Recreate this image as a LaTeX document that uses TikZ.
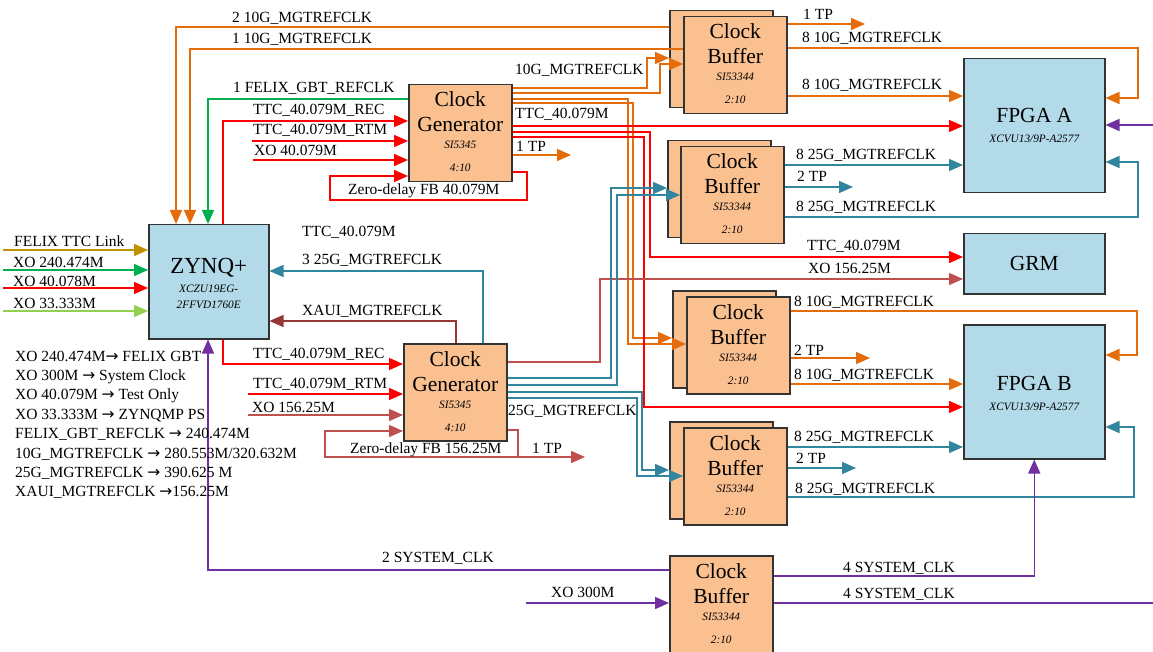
\documentclass[tikz,border=0pt]{standalone}
\usepackage{fontspec}
\setmainfont{Liberation Serif}
\newfontfamily\arrowfont{DejaVu Sans}
\usetikzlibrary{arrows.meta,calc}

\definecolor{orng}{RGB}{228,108,10}
\definecolor{teal5}{RGB}{49,133,156}
\definecolor{brick}{RGB}{192,80,77}
\definecolor{xauic}{RGB}{149,55,53}
\definecolor{grn}{RGB}{0,176,80}
\definecolor{lgrn}{RGB}{146,208,80}
\definecolor{gold}{RGB}{191,144,0}
\definecolor{purp}{RGB}{112,48,160}
\definecolor{peach}{RGB}{250,192,144}
\definecolor{lblue}{RGB}{178,218,232}

\newcommand{\legarrow}{{\arrowfont →}}
% four text lines of a clock chip box
\newcommand{\boxtext}[5]{%
  \node[bigtxt] (#1-l1) at ($(#1.north)+(0,23)$) {#2};
  \node[bigtxt] (#1-l2) at ($(#1.north)+(0,48)$) {#3};
  \node[parttxt] (#1-l3) at ($(#1.north)+(0,65)$) {#4};
  \node[parttxt] (#1-l4) at ($(#1.north)+(0,88)$) {#5};}

\begin{document}
\begin{tikzpicture}[x=1pt,y=-1pt,
  box/.style={draw=black!80,line width=1.5pt,minimum width=103pt,minimum height=97pt,anchor=north west,inner sep=0pt,fill=peach},
  fpga/.style={draw=black!80,line width=1.5pt,minimum width=141pt,minimum height=134pt,anchor=north west,inner sep=0pt,fill=lblue},
  wire/.style={line width=1.5pt},
  arr/.style={wire,-{Triangle[length=14pt,width=12pt]}},
  lbl/.style={anchor=base west,inner sep=0pt,font=\fontsize{15.5}{18}\selectfont},
  bigtxt/.style={anchor=base,inner sep=0pt,font=\fontsize{21.5}{24}\selectfont},
  parttxt/.style={anchor=base,inner sep=0pt,font=\fontsize{11.3}{13}\selectfont\itshape}]
\useasboundingbox (0,0) rectangle (1153,652);

% clock buffers (stacked pairs) and generators
\node[box] (bufAb) at (669,10) {};
\node[box] (bufA) at (683,16) {};
\node[box] (bufBb) at (667,140) {};
\node[box] (bufB) at (680,146) {};
\node[box] (bufCb) at (672,290) {};
\node[box] (bufC) at (686,296) {};
\node[box] (bufDb) at (669,421) {};
\node[box] (bufD) at (683,427) {};
\node[box] (bufS) at (669,555) {};
\node[box] (genA) at (408,84) {};
\node[box] (genB) at (403,343) {};
\boxtext{genA}{Clock}{Generator}{SI5345}{4:10}
\boxtext{genB}{Clock}{Generator}{SI5345}{4:10}
\foreach \b in {bufA,bufB,bufC,bufD,bufS} {\boxtext{\b}{Clock}{Buffer}{SI53344}{2:10}}

% processor, FPGAs and GRM
\node[fpga,minimum width=120pt,minimum height=114pt] (zynq) at (148,224) {};
\node[fpga] (fpgaA) at (963,58) {};
\node[fpga,minimum height=60pt] (grm) at (963,233) {};
\node[fpga] (fpgaB) at (963,324) {};
\node[bigtxt,font=\fontsize{23}{26}\selectfont] (zynq-l1) at ($(zynq.north)+(0,49)$) {ZYNQ+};
\node[parttxt] (zynq-l2) at ($(zynq.north)+(0,68)$) {XCZU19EG-};
\node[parttxt] (zynq-l3) at ($(zynq.north)+(0,84)$) {2FFVD1760E};
\node[bigtxt] (fpgaA-l1) at ($(fpgaA.north)+(0,65)$) {FPGA A};
\node[parttxt] (fpgaA-l2) at ($(fpgaA.north)+(0,85)$) {XCVU13/9P-A2577};
\node[bigtxt] (grm-l1) at ($(grm.north)+(0,37)$) {GRM};
\node[bigtxt] (fpgaB-l1) at ($(fpgaB.north)+(0,66)$) {FPGA B};
\node[parttxt] (fpgaB-l2) at ($(fpgaB.north)+(0,86)$) {XCVU13/9P-A2577};

% into ZYNQ from the top
\draw[arr,orng] (bufAb.west |- 0,27) -| (zynq.north -| 176,0);
\draw[arr,orng] (bufA.west |- 0,49) -| (zynq.north -| 190,0);
\draw[arr,grn] (genA.west |- 0,99) -| (zynq.north -| 208,0);
\draw[arr,red] (zynq.north -| 223,0) |- (genA.west |- 0,121);

% generator A inputs
\coordinate (rtmA) at (252,141);
\coordinate (xoA) at (253,160);
\draw[arr,red] (rtmA) -- (rtmA -| genA.west);
\draw[arr,red] (xoA) -- (xoA -| genA.west);
\draw[arr,red] (genA.east |- 0,172) -| (527,200) -| (330,176) -- (genA.west |- 0,176);

% generator A outputs
\draw[arr,orng] (genA.east |- 0,88) -| (647,58) -- (bufAb.west |- 0,58);
\draw[arr,orng] (genA.east |- 0,93) -| (660,64) -- (bufA.west |- 0,64);
\draw[arr,orng] (genA.east |- 0,99) -| (628,344) -- (bufC.west |- 0,344);
\draw[arr,orng] (genA.east |- 0,103) -| (633,338) -- (bufCb.west |- 0,338);
\draw[arr,red] (genA.east |- 0,126) -- (fpgaA.west |- 0,126);
\draw[arr,red] (genA.east |- 0,132) -| (650,257) -- (grm.west |- 0,257);
\draw[arr,red] (genA.east |- 0,137) -| (644,407) -- (fpgaB.west |- 0,407);
\coordinate (tpA) at (571,155);
\draw[arr,orng] (genA.east |- 0,155) -- (tpA);

% into ZYNQ from the right and bottom
\draw[arr,teal5] (genB.north -| 483,0) |- (zynq.east |- 0,271);
\draw[arr,xauic] (genB.north -| 456,0) |- (zynq.east |- 0,321);
\draw[arr,purp] (bufS.west |- 0,570) -| (zynq.south -| 208,0);
\draw[arr,red] (zynq.south -| 223,0) |- (genB.west |- 0,364);

% generator B inputs
\coordinate (rtmB) at (248,394);
\coordinate (xoB) at (248,415);
\draw[arr,red] (rtmB) -- (rtmB -| genB.west);
\draw[arr,brick] (xoB) -- (xoB -| genB.west);
\coordinate (fbB) at (518,457);
\coordinate (tpB) at (585,457);
\draw[wire,brick] (genB.east |- 0,430) -| (fbB);
\draw[arr,brick] (fbB) -- (tpB);
\draw[arr,brick] (fbB) -| (325,431) -- (genB.west |- 0,431);

% generator B outputs
\draw[arr,brick] (genB.east |- 0,362) -| (600,279) -- (grm.west |- 0,279);
\draw[arr,teal5] (genB.east |- 0,378) -| (611,188) -- (bufBb.west |- 0,188);
\draw[arr,teal5] (genB.east |- 0,385) -| (617,195) -- (bufB.west |- 0,195);
\draw[arr,teal5] (genB.east |- 0,392) -| (642,470) -- (bufDb.west |- 0,470);
\draw[arr,teal5] (genB.east |- 0,398) -| (637,476) -- (bufD.west |- 0,476);

% buffer outputs
\coordinate (tpA1) at (865,24);
\draw[arr,orng] (bufA.east |- 0,24) -- (tpA1);
\draw[arr,orng] (bufA.east |- 0,48) -| (1138,98) -- (fpgaA.east |- 0,98);
\draw[arr,orng] (bufA.east |- 0,96) -- (fpgaA.west |- 0,96);
\coordinate (tpB1) at (853,187);
\draw[arr,teal5] (bufB.east |- 0,165) -- (fpgaA.west |- 0,165);
\draw[arr,teal5] (bufB.east |- 0,187) -- (tpB1);
\draw[arr,teal5] (bufB.east |- 0,217) -| (1138,162) -- (fpgaA.east |- 0,162);
\coordinate (tpC1) at (870,358);
\draw[arr,orng] (bufC.east |- 0,311) -| (1137,355) -- (fpgaB.east |- 0,355);
\draw[arr,orng] (bufC.east |- 0,358) -- (tpC1);
\draw[arr,orng] (bufC.east |- 0,384) -- (fpgaB.west |- 0,384);
\coordinate (tpD1) at (856,468);
\draw[arr,teal5] (bufD.east |- 0,447) -- (fpgaB.west |- 0,447);
\draw[arr,teal5] (bufD.east |- 0,468) -- (tpD1);
\draw[arr,teal5] (bufD.east |- 0,497) -| (1134,427) -- (fpgaB.east |- 0,427);

% system clock
\coordinate (xo300) at (526,603);
\coordinate (sysOut) at (1153,603);
\coordinate (sysIn) at (1153,125);
\draw[arr,purp] (xo300) -- (xo300 -| bufS.west);
\draw[arr,purp] (bufS.east |- 0,576) -| (fpgaB.south);
\draw[wire,purp] (bufS.east |- 0,603) -- (sysOut);
\draw[arr,purp] (sysIn) -- (sysIn -| fpgaA.east);

% ZYNQ left inputs
\foreach \y/\c [count=\i] in {250/gold,270/grn,288/red,311/lgrn} {
  \coordinate (in\i) at (3,\y);
  \draw[arr,\c] (in\i) -- (in\i -| zynq.west);
}

% wire labels
\foreach \x/\y/\t [count=\i] in {
  232/23/{2 10G\_MGTREFCLK}, 232/44/{1 10G\_MGTREFCLK}, 233/93/{1 FELIX\_GBT\_REFCLK},
  253/115/{TTC\_40.079M\_REC}, 253/135/{TTC\_40.079M\_RTM}, 254/156/{XO 40.079M},
  348/195/{Zero-delay FB 40.079M}, 515/75/{10G\_MGTREFCLK}, 515/119/{TTC\_40.079M},
  516/152/{1 TP}, 803/20/{1 TP}, 802/43/{8 10G\_MGTREFCLK}, 802/90/{8 10G\_MGTREFCLK},
  796/160/{8 25G\_MGTREFCLK}, 797/182/{2 TP}, 796/212/{8 25G\_MGTREFCLK},
  302/237/{TTC\_40.079M}, 302/265/{3 25G\_MGTREFCLK}, 302/315/{XAUI\_MGTREFCLK},
  14/247/{FELIX TTC Link}, 13/267/{XO 240.474M}, 13/287/{XO 40.078M}, 13/308/{XO 33.333M},
  253/358/{TTC\_40.079M\_REC}, 253/388/{TTC\_40.079M\_RTM}, 252/412/{XO 156.25M},
  350/453/{Zero-delay FB 156.25M}, 532/453/{1 TP}, 508/415/{25G\_MGTREFCLK},
  807/251/{TTC\_40.079M}, 808/273/{XO 156.25M}, 794/306/{8 10G\_MGTREFCLK},
  794/355/{2 TP}, 794/379/{8 10G\_MGTREFCLK}, 794/441/{8 25G\_MGTREFCLK},
  796/463/{2 TP}, 795/493/{8 25G\_MGTREFCLK}, 382/562/{2 SYSTEM\_CLK},
  551/597/{XO 300M}, 843/572/{4 SYSTEM\_CLK}, 843/598/{4 SYSTEM\_CLK}} {
  \node[lbl] (lbl\i) at (\x,\y) {\t};
}

% legend
\foreach \t [count=\i from 0] in {
  {XO 240.474M\legarrow{} FELIX GBT}, {XO 300M \legarrow{} System Clock},
  {XO 40.079M \legarrow{} Test Only}, {XO 33.333M \legarrow{} ZYNQMP PS},
  {FELIX\_GBT\_REFCLK \legarrow{} 240.474M}, {10G\_MGTREFCLK \legarrow{} 280.553M/320.632M},
  {25G\_MGTREFCLK \legarrow{} 390.625 M}, {XAUI\_MGTREFCLK \legarrow{}156.25M}} {
  \node[lbl] (leg\i) at (15,{361+19.4*\i}) {\t};
}
\end{tikzpicture}
\end{document}
